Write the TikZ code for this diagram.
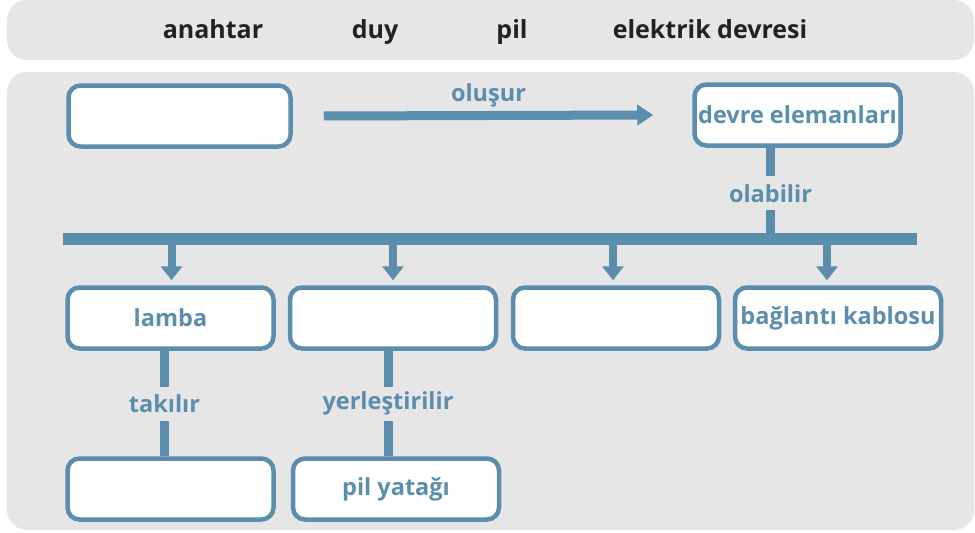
\documentclass[tikz,border=0pt]{standalone}
\usepackage{fontspec}
\setmainfont{Open Sans}
\usepackage{xcolor}
\usetikzlibrary{arrows.meta}
\usetikzlibrary{positioning}
\definecolor{mapblue}{RGB}{91,142,173}
\definecolor{panelgray}{RGB}{230,230,230}
\definecolor{wordblack}{RGB}{34,34,34}
\tikzset{
    concept/.style={
        draw=mapblue,
        line width=4.5pt,
        rounded corners=12pt,
        fill=white,
        minimum width=206pt,
        minimum height=61pt,
        inner sep=0pt,
        text=mapblue,
        font=\bfseries\fontsize{23.5}{25}\selectfont
    },
    word/.style={
        text=wordblack,
        anchor=base,
        font=\bfseries\fontsize{25}{27}\selectfont
    },
    linkword/.style={
        fill=panelgray,
        text=mapblue,
        inner sep=0pt,
        minimum height=34pt,
        font=\bfseries\fontsize{23.5}{25}\selectfont
    },
    link/.style={draw=mapblue, line width=9pt},
    flow/.style={draw=mapblue, line width=9pt, -{Triangle[length=16pt, width=20pt]}},
    drop/.style={draw=mapblue, line width=8pt, -{Triangle[length=14pt, width=21pt]}, shorten >=5pt}
}

\begin{document}
\begin{tikzpicture}[x=1pt, y=-1pt]
  \useasboundingbox (0,0) rectangle (975,533);

  % Panels
  \fill[panelgray, rounded corners=20pt] (7,0) rectangle (974,60);
  \fill[panelgray, rounded corners=20pt] (7,72) rectangle (974,530);

  % Word list
  \node[word] (w1) at (213,38) {anahtar};
  \node[word] (w2) at (375,38) {duy};
  \node[word] (w3) at (512,38) {pil};
  \node[word] (w4) at (710,38) {elektrik devresi};

  % Concept boxes
  \node[concept, minimum width=222pt] (circuit) at (179.5,116) {};
  \node[concept] (parts) at (797.5,115) {devre elemanları};
  \node[concept] (lamp) at (170.5,318) {lamba};
  \node[concept] (part2) at (393,318) {};
  \node[concept] (part3) at (616,318) {};
  \node[concept] (cable) at (838,318) {bağlantı kablosu};
  \node[concept] (socket) at (170.5,489) {};
  \node[concept] (holder) at (396,489) {pil yatağı};

  % Bar
  \coordinate (barL) at (63,239);
  \coordinate (barR) at (917,239);
  \draw[link, line width=12pt] (barL) -- (barR);

  % Links
  \draw[flow] ([xshift=31pt]circuit.east) -- node[above=1pt, text=mapblue, font=\bfseries\fontsize{23.5}{25}\selectfont] (olusur) {oluşur} ([xshift=-39pt]parts.west);
  \draw[link] ([xshift=-27pt]parts.south) -- node[linkword] (olabilir) {olabilir} ([xshift=-27pt]parts.south |- barL);
  \draw[drop] ([xshift=1pt]lamp.north |- barL) -- ([xshift=1pt]lamp.north);
  \draw[drop] (part2.north |- barL) -- (part2.north);
  \draw[drop] ([xshift=-3pt]part3.north |- barL) -- ([xshift=-3pt]part3.north);
  \draw[drop] ([xshift=-11pt]cable.north |- barL) -- ([xshift=-11pt]cable.north);
  \draw[link] ([xshift=-6pt]lamp.south) -- node[linkword] (takilir) {takılır} ([xshift=-6pt]socket.north);
  \draw[link] ([xshift=-5pt]part2.south) -- node[linkword] (yerlestirilir) {yerleştirilir} ([xshift=-5pt]part2.south |- holder.north);
\end{tikzpicture}
\end{document}
